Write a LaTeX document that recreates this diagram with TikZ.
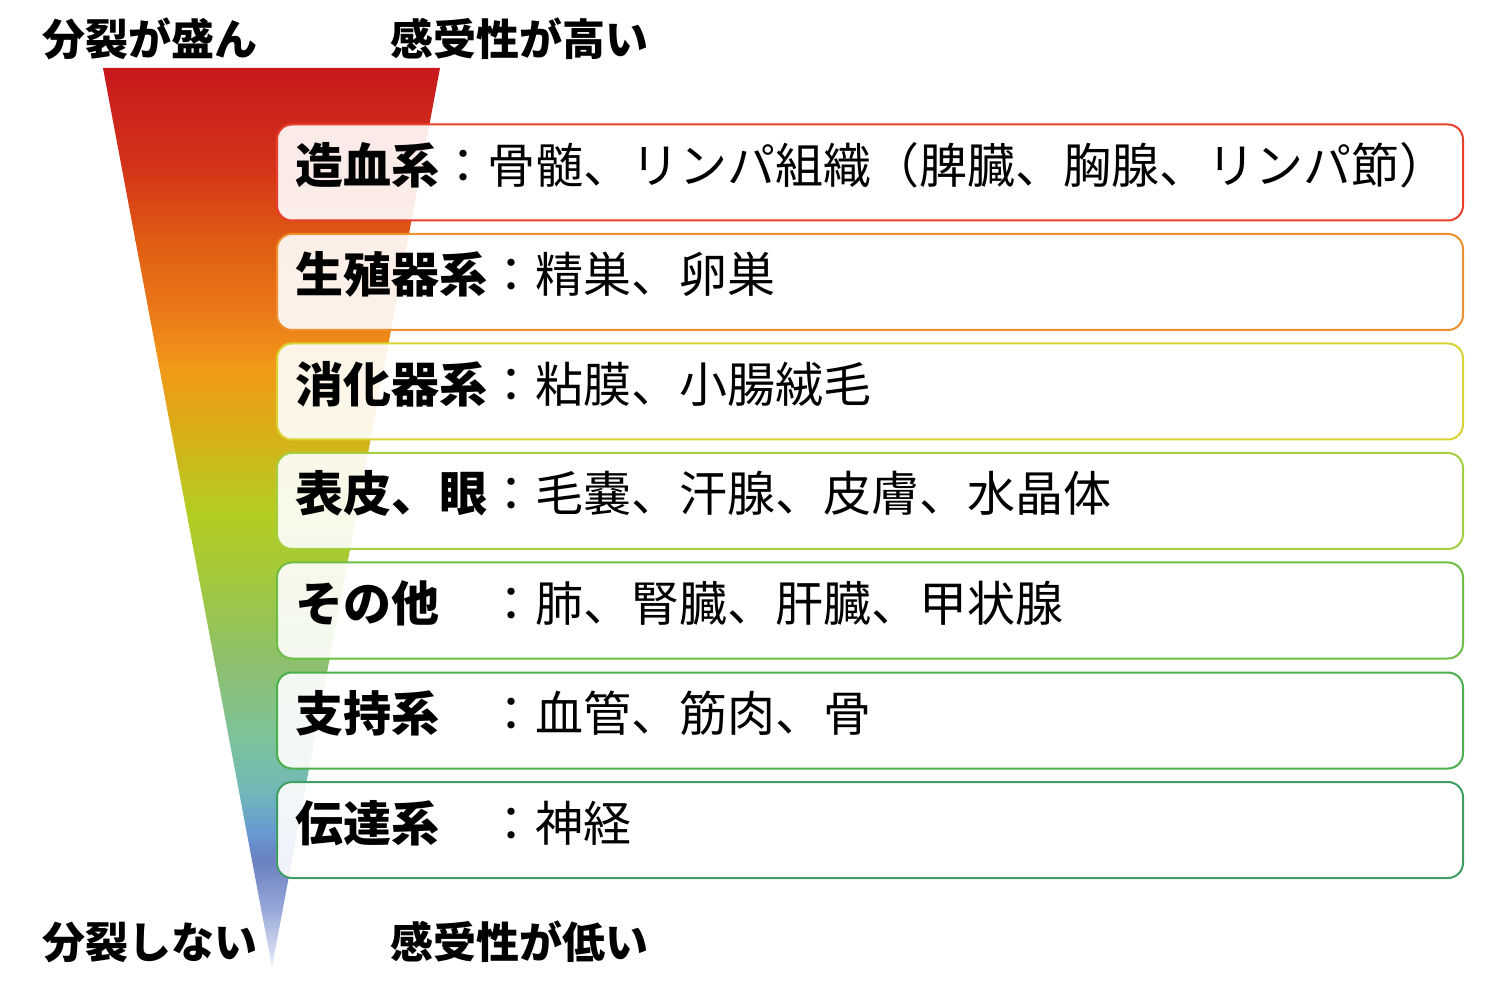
\documentclass[tikz,border=0pt]{standalone}
\usepackage{fontspec}
\setmainfont{Noto Sans CJK JP}
\definecolor{g1}{HTML}{C8181E}
\definecolor{g2}{HTML}{D33518}
\definecolor{g3}{HTML}{E05C12}
\definecolor{g4}{HTML}{EA7818}
\definecolor{g5}{HTML}{F29818}
\definecolor{g6}{HTML}{DAAE18}
\definecolor{g7}{HTML}{B4CC22}
\definecolor{g8}{HTML}{A2C83C}
\definecolor{g9}{HTML}{8EC06C}
\definecolor{g10}{HTML}{7CC29C}
\definecolor{g11}{HTML}{72B8B8}
\definecolor{g12}{HTML}{6898D2}
\definecolor{g13}{HTML}{6A80C0}
\definecolor{g14}{HTML}{98A8D8}
\definecolor{g15}{HTML}{EEF0FA}
\definecolor{bc1}{HTML}{E8402C}
\definecolor{bc2}{HTML}{EE9030}
\definecolor{bc3}{HTML}{D8D432}
\definecolor{bc4}{HTML}{A4D040}
\definecolor{bc5}{HTML}{6CBE44}
\definecolor{bc6}{HTML}{4CAE4C}
\definecolor{bc7}{HTML}{3E9E64}
\tikzset{
  rowbox/.style={draw, line width=1pt, rounded corners=7.5pt, fill=white, fill opacity=0.9, draw opacity=1,
    minimum width=593pt, minimum height=48pt, inner sep=0pt},
  rowtext/.style={anchor=base west, inner sep=0pt, font=\fontsize{24pt}{28pt}\selectfont, text opacity=1},
  edgelabel/.style={anchor=base west, inner sep=0pt, font=\fontsize{21.5pt}{26pt}\selectfont\bfseries},
}
\begin{document}
\begin{tikzpicture}[x=0.5pt,y=-0.5pt]
\useasboundingbox (0,0) rectangle (1500,989);
% gradient triangle
\coordinate (tl) at (103,68);
\coordinate (tr) at (440,68);
\coordinate (tip) at (272,967);
\begin{scope}
\clip (tl) -- (tr) -- (tip) -- cycle;
\shade[top color=g1,bottom color=g2] (90,67) rectangle (460,171);
\shade[top color=g2,bottom color=g3] (90,170) rectangle (460,241);
\shade[top color=g3,bottom color=g4] (90,240) rectangle (460,311);
\shade[top color=g4,bottom color=g5] (90,310) rectangle (460,366);
\shade[top color=g5,bottom color=g6] (90,365) rectangle (460,431);
\shade[top color=g6,bottom color=g7] (90,430) rectangle (460,511);
\shade[top color=g7,bottom color=g8] (90,510) rectangle (460,581);
\shade[top color=g8,bottom color=g9] (90,580) rectangle (460,661);
\shade[top color=g9,bottom color=g10] (90,660) rectangle (460,741);
\shade[top color=g10,bottom color=g11] (90,740) rectangle (460,791);
\shade[top color=g11,bottom color=g12] (90,790) rectangle (460,834);
\shade[top color=g12,bottom color=g13] (90,833) rectangle (460,861);
\shade[top color=g13,bottom color=g14] (90,860) rectangle (460,911);
\shade[top color=g14,bottom color=g15] (90,910) rectangle (460,970);
\end{scope}
% boxes
\node[rowbox, draw=bc1] (b1) at (870,172.5) {};
\node[rowbox, draw=bc2] (b2) at (870,282) {};
\node[rowbox, draw=bc3] (b3) at (870,391.5) {};
\node[rowbox, draw=bc4] (b4) at (870,501) {};
\node[rowbox, draw=bc5] (b5) at (870,610.5) {};
\node[rowbox, draw=bc6] (b6) at (870,720.5) {};
\node[rowbox, draw=bc7] (b7) at (870,830) {};
% texts
\node[rowtext] (t1) at (295,183.5) {\textbf{造血系}：骨髄、リンパ組織（脾臓、胸腺、リンパ節）};
\node[rowtext] (t2) at (295,293) {\textbf{生殖器系}：精巣、卵巣};
\node[rowtext] (t3) at (295,402.5) {\textbf{消化器系}：粘膜、小腸絨毛};
\node[rowtext] (t4) at (295,512) {\textbf{表皮、眼}：毛嚢、汗腺、皮膚、水晶体};
\node[rowtext] (t5) at (295,621.5) {\textbf{その他}　：肺、腎臓、肝臓、甲状腺};
\node[rowtext] (t6) at (295,731.5) {\textbf{支持系}　：血管、筋肉、骨};
\node[rowtext] (t7) at (295,841) {\textbf{伝達系}　：神経};
% edge labels
\node[edgelabel] (l1) at (42,56) {分裂が盛ん};
\node[edgelabel] (l2) at (390,56) {感受性が高い};
\node[edgelabel] (l3) at (42,958) {分裂しない};
\node[edgelabel] (l4) at (390,958) {感受性が低い};
\end{tikzpicture}
\end{document}
